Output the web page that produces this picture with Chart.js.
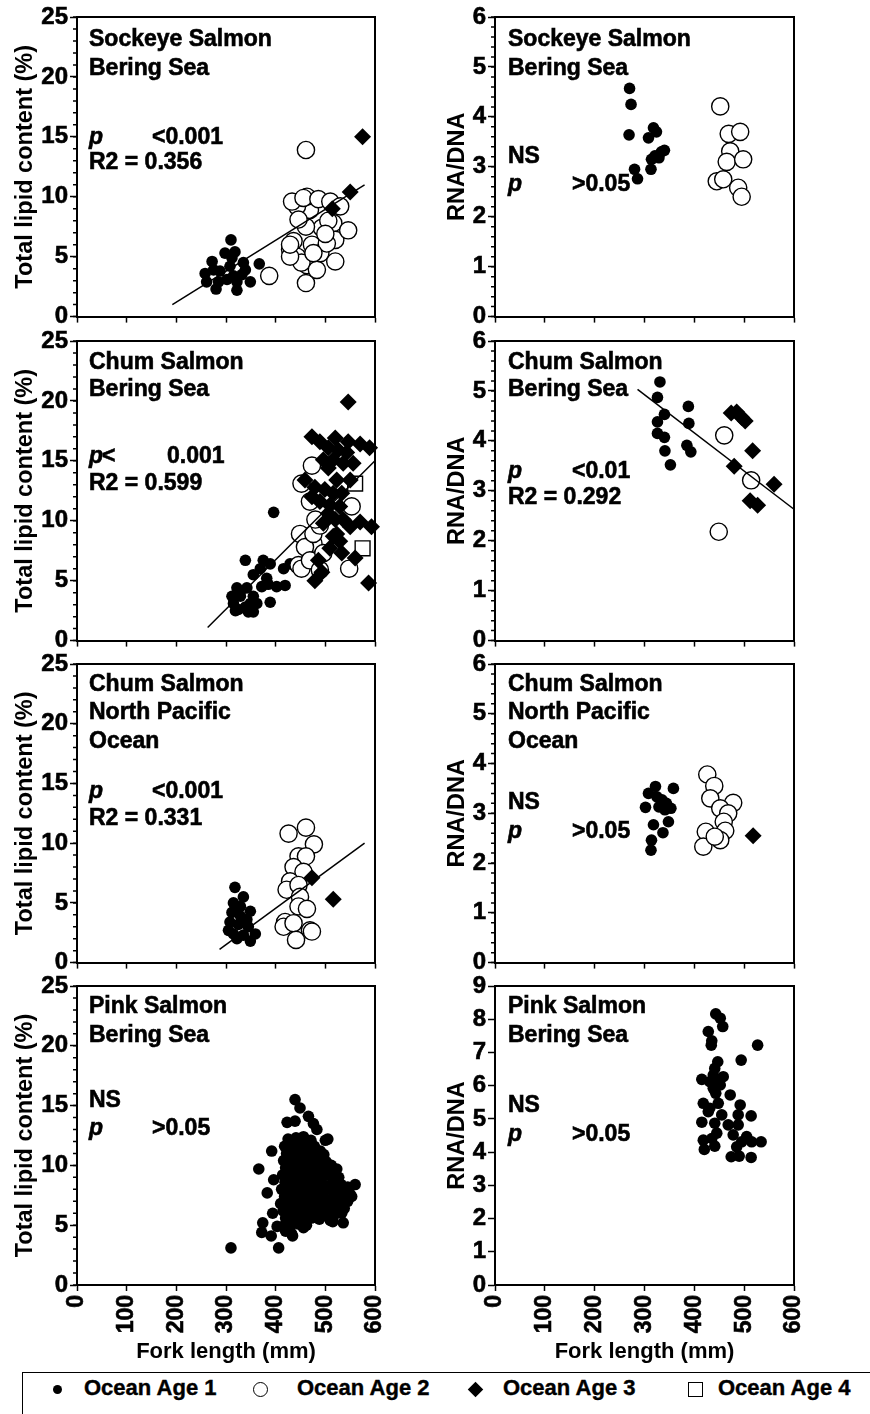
<!DOCTYPE html>
<html>
<head>
<meta charset="utf-8">
<script src="https://cdn.jsdelivr.net/npm/chart.js@4.4.1/dist/chart.umd.min.js"></script>
<style>
  body { margin: 0; background: #fff; width: 870px; height: 1414px; position: relative; overflow: hidden;
         font-family: "Liberation Sans", Arial, sans-serif; }
  canvas { position: absolute; }
  #legend { position: absolute; left: 22px; top: 1372px; width: 900px; height: 60px;
            border: 1.5px solid #000; box-sizing: border-box; }
  #legend .lbl { position: absolute; top: 2px; font-size: 22px; font-weight: bold; line-height: 26px; white-space: nowrap;
                 -webkit-text-stroke: 0.4px #000; }
  #legend .sym { position: absolute; box-sizing: border-box; }
</style>
</head>
<body>
<div id="legend"></div>
<script>
// ---- tick labels ----
const lengthTicks = [0, 100, 200, 300, 400, 500, 600];
const lipidTicks = [0, 5, 10, 15, 20, 25];
const rnaTicks = [0, 1, 2, 3, 4, 5, 6];
const pinkRnaTicks = [0, 1, 2, 3, 4, 5, 6, 7, 8, 9];
const legendLabels = ['Ocean Age 1', 'Ocean Age 2', 'Ocean Age 3', 'Ocean Age 4'];

// ---- Sockeye, Bering Sea: lipid (fork length mm, %) ----
const sockeyeLipidAge1 = [[310,6.4],[272,4.6],[258,3.6],[261,2.9],[280,2.3],[322,2.2],[349,2.9],[367,4.4],[318,5.4],[298,5.3],[335,4.5],[308,4.2],[288,3.8],[315,3.4],[332,3.5],[275,3.9],[302,3.1],[285,2.9],[322,2.9],[312,4.9],[339,3.9]];
const sockeyeLipidAge2 = [[461,13.9],[387,3.4],[461,2.8],[463,4.3],[473,6.0],[436,6.3],[429,5.6],[443,5.0],[452,4.5],[483,3.9],[490,5.3],[493,7.4],[461,7.5],[469,8.9],[443,9.2],[433,9.6],[463,10.0],[456,9.9],[486,9.8],[510,9.6],[530,9.2],[516,7.8],[520,6.4],[503,6.1],[520,4.6],[546,7.2],[429,5.0],[476,5.3],[506,8.0],[446,8.1],[500,6.9],[429,6.0]];
const sockeyeLipidAge3 = [[575,15.0],[550,10.4],[514,9.0]];
const sockeyeLipidFit = [[192,1.0],[579,11.0]];

// ---- Chum, Bering Sea: lipid ----
const chumLipidAge1 = [[396,10.7],[339,6.7],[375,6.7],[389,6.4],[416,6.0],[355,5.5],[382,5.2],[419,4.6],[402,4.5],[322,4.4],[342,4.4],[389,3.2],[329,3.7],[355,3.7],[315,3.1],[325,2.6],[355,2.4],[339,2.8],[312,3.7],[349,3.1],[372,4.5],[329,4.1],[319,2.5],[345,2.4],[362,3.1],[385,4.7],[369,6.0],[429,6.4]];
const chumLipidAge2 = [[473,14.6],[452,13.1],[469,11.6],[553,11.2],[449,8.9],[476,8.1],[459,7.8],[476,8.9],[489,9.6],[446,6.3],[452,6.0],[469,6.7],[548,6.0],[496,7.3],[489,5.9],[480,10.1]];
const chumLipidAge3 = [[546,19.9],[473,17.0],[489,16.6],[520,16.9],[546,16.6],[570,16.4],[589,16.1],[506,16.1],[526,15.9],[543,15.7],[496,15.1],[516,15.1],[536,14.8],[506,14.4],[556,14.8],[550,13.4],[523,13.4],[459,13.4],[479,12.8],[499,12.6],[516,12.3],[533,12.3],[473,12.0],[489,11.6],[509,11.3],[529,11.2],[506,10.6],[520,10.1],[496,9.8],[536,10.1],[570,9.9],[593,9.5],[516,8.7],[529,8.3],[509,7.7],[533,7.3],[560,6.9],[486,6.7],[479,5.0],[493,5.7],[587,4.8],[550,9.5],[523,8.9]];
const chumLipidAge4 = [[560,13.1],[575,7.7]];
const chumLipidFit = [[263,1.1],[600,15.0]];

// ---- Chum, North Pacific Ocean: lipid ----
const npoLipidAge1 = [[318,6.3],[335,5.5],[315,5.0],[349,4.3],[312,4.2],[329,3.9],[308,3.4],[325,3.2],[305,2.7],[345,3.0],[359,2.4],[322,2.0],[349,1.8],[335,2.3],[315,2.4],[342,3.6],[318,4.5],[329,4.7]];
const npoLipidAge2 = [[461,11.3],[426,10.8],[477,9.9],[446,8.9],[461,8.9],[436,8.0],[456,7.6],[429,6.8],[422,6.1],[446,6.5],[449,5.5],[446,4.7],[463,4.5],[419,3.4],[416,3.0],[436,3.3],[469,2.7],[473,2.6],[441,1.9]];
const npoLipidAge3 = [[473,7.1],[516,5.3]];
const npoLipidFit = [[287,1.1],[579,10.0]];

// ---- Pink, Bering Sea: lipid ----
const pinkLipidAge1 = [
  [310,3.1],[406,3.1],[366,9.7],[392,11.2],[396,8.8],[383,7.7],[374,5.2],[372,4.4],[391,4.1],[434,4.1],[456,4.8],[403,4.9],[394,6.0],
  [439,15.5],[449,14.8],[423,13.6],[439,13.7],[466,14.1],[476,13.5],[483,13.0],[500,12.1],[560,8.4],[536,5.2],[510,5.4],[516,5.7],[553,7.4],[523,9.7],[493,10.4],
  [425,12.2],[433,12.0],[441,12.3],[448,11.9],[456,12.4],[471,12.1],[505,12.2],
  [418,11.6],[428,11.4],[436,11.7],[445,11.5],[452,11.8],[462,11.3],[478,11.6],[490,11.2],
  [422,11.0],[430,10.8],[440,11.1],[447,10.9],[458,11.0],[466,10.7],[474,11.1],[483,10.8],[497,10.9],
  [416,10.4],[426,10.2],[434,10.5],[443,10.3],[451,10.6],[460,10.1],[469,10.4],[479,10.2],[488,10.5],[502,10.3],[512,10.0],
  [420,9.8],[429,9.6],[437,9.9],[446,9.7],[455,9.5],[464,9.9],[473,9.6],[482,9.8],[491,9.5],[500,9.7],[518,9.4],
  [414,9.2],[424,9.0],[433,9.3],[442,9.1],[450,8.9],[459,9.2],[468,9.0],[477,9.3],[486,8.9],[495,9.1],[508,9.2],[527,9.0],
  [419,8.6],[428,8.4],[436,8.7],[445,8.5],[454,8.3],[463,8.6],[472,8.4],[481,8.7],[490,8.5],[503,8.3],[515,8.6],[532,8.4],[545,8.2],
  [412,8.0],[423,7.8],[431,8.1],[440,7.9],[449,7.7],[458,8.0],[467,7.8],[476,8.1],[485,7.9],[496,7.7],[510,8.0],[522,7.8],[540,7.9],[550,7.6],
  [418,7.4],[426,7.2],[435,7.5],[444,7.3],[453,7.1],[462,7.4],[471,7.2],[480,7.5],[492,7.3],[505,7.1],[517,7.4],[530,7.2],[545,7.0],
  [410,6.8],[421,6.6],[430,6.9],[439,6.7],[448,6.5],[457,6.8],[466,6.6],[475,6.9],[487,6.7],[498,6.5],[512,6.8],[525,6.6],[538,6.4],
  [415,6.2],[425,6.0],[434,6.3],[443,6.1],[452,5.9],[461,6.2],[470,6.0],[483,6.3],[494,6.1],[507,5.9],[520,6.2],[533,6.0],
  [420,5.6],[430,5.4],[440,5.7],[450,5.5],[460,5.8],[472,5.6],[488,5.5],[500,5.8],[515,5.3],
  [418,5.0],[428,4.8],[445,5.1],[462,5.0],[420,4.5],[432,4.3]
];

// ---- RNA/DNA ----
const sockeyeRnaAge1 = [[270,4.57],[273,4.25],[269,3.64],[280,2.95],[286,2.76],[318,3.78],[308,3.58],[324,3.7],[314,3.15],[334,3.3],[329,3.18],[313,2.95],[340,3.33],[321,3.22]];
const sockeyeRnaAge2 = [[452,4.21],[469,3.66],[492,3.7],[472,3.31],[465,3.1],[498,3.15],[445,2.71],[458,2.75],[488,2.58],[495,2.4]];

const chumRnaAge1 = [[331,5.18],[326,4.87],[340,4.53],[326,4.38],[326,4.15],[340,4.07],[341,3.8],[352,3.52],[388,4.69],[389,4.35],[385,3.91],[393,3.78]];
const chumRnaAge2 = [[460,4.11],[514,3.21],[449,2.18]];
const chumRnaAge3 = [[474,4.56],[485,4.58],[495,4.47],[502,4.4],[517,3.8],[480,3.49],[512,2.8],[527,2.71],[560,3.13]];
const chumRnaFit = [[286,5.03],[600,2.63]];

const npoRnaAge1 = [[322,3.54],[358,3.5],[308,3.4],[335,3.27],[344,3.2],[302,3.12],[353,3.1],[329,3.13],[318,2.77],[348,2.83],[337,2.61],[314,2.46],[313,2.26],[325,3.33],[341,3.07]];
const npoRnaAge2 = [[426,3.78],[440,3.55],[432,3.3],[478,3.21],[452,3.1],[468,3.0],[459,2.83],[462,2.65],[423,2.63],[452,2.46],[418,2.33],[441,2.53]];
const npoRnaAge3 = [[518,2.55]];

const pinkRnaAge1 = [[443,8.16],[452,8.03],[457,7.78],[428,7.63],[435,7.35],[434,7.22],[527,7.22],[494,6.77],[447,6.72],[441,6.52],[438,6.32],[458,6.27],[415,6.19],[445,6.12],[452,6.02],[438,5.92],[431,6.12],[472,5.72],[443,5.77],[418,5.47],[448,5.47],[431,5.32],[492,5.42],[428,5.22],[455,5.12],[488,5.12],[514,5.09],[415,4.9],[441,4.87],[468,4.82],[488,4.82],[478,4.52],[445,4.57],[418,4.36],[435,4.41],[505,4.47],[534,4.31],[515,4.31],[495,4.31],[420,4.08],[441,4.18],[474,3.86],[490,3.88],[514,3.84],[485,4.16]];

// ---- layout ----
const rowTop = [17, 341, 664, 986];
const rowBottom = [317, 641, 963, 1285];
const FONT = '"Liberation Sans", Arial, sans-serif';
Chart.defaults.font.family = FONT;
Chart.defaults.font.weight = 'bold';
Chart.defaults.color = '#000';

const ageStyle = {
  age1: { pointStyle: 'circle', pointRadius: 5.8, backgroundColor: '#000', borderColor: '#000', borderWidth: 0 },
  age2: { pointStyle: 'circle', pointRadius: 8.6, backgroundColor: '#fff', borderColor: '#000', borderWidth: 1.4 },
  age3: { pointStyle: 'rectRot', pointRadius: 8.5, backgroundColor: '#000', borderColor: '#000', borderWidth: 0 },
  age4: { pointStyle: 'rect', pointRadius: 10.5, backgroundColor: '#fff', borderColor: '#000', borderWidth: 1.4 }
};

const panels = [
  { row: 0, col: 0, kind: 'lipid', age1: sockeyeLipidAge1, age2: sockeyeLipidAge2, age3: sockeyeLipidAge3, fit: sockeyeLipidFit,
    text: [['Sockeye Salmon', 12, 23], ['Bering Sea', 12, 52], ['p', 12, 121, true], ['<0.001', 75, 121], ['R2 = 0.356', 12, 146]] },
  { row: 1, col: 0, kind: 'lipid', age1: chumLipidAge1, age2: chumLipidAge2, age3: chumLipidAge3, age4: chumLipidAge4, fit: chumLipidFit,
    text: [['Chum Salmon', 12, 22], ['Bering Sea', 12, 49], ['p', 12, 116, true], ['<', 25, 116], ['0.001', 90, 116], ['R2 = 0.599', 12, 143]] },
  { row: 2, col: 0, kind: 'lipid', age1: npoLipidAge1, age2: npoLipidAge2, age3: npoLipidAge3, fit: npoLipidFit,
    text: [['Chum Salmon', 12, 21], ['North Pacific', 12, 49], ['Ocean', 12, 78], ['p', 12, 128, true], ['<0.001', 75, 128], ['R2 = 0.331', 12, 155]] },
  { row: 3, col: 0, kind: 'lipid', age1: pinkLipidAge1,
    text: [['Pink Salmon', 12, 21], ['Bering Sea', 12, 50], ['NS', 12, 115], ['p', 12, 143, true], ['>0.05', 75, 143]] },
  { row: 0, col: 1, kind: 'rna', age1: sockeyeRnaAge1, age2: sockeyeRnaAge2,
    text: [['Sockeye Salmon', 13, 23], ['Bering Sea', 13, 52], ['NS', 13, 140], ['p', 13, 168, true], ['>0.05', 77, 168]] },
  { row: 1, col: 1, kind: 'rna', age1: chumRnaAge1, age2: chumRnaAge2, age3: chumRnaAge3, fit: chumRnaFit,
    text: [['Chum Salmon', 13, 22], ['Bering Sea', 13, 49], ['p', 13, 131, true], ['<0.01', 77, 131], ['R2 = 0.292', 13, 157]] },
  { row: 2, col: 1, kind: 'rna', age1: npoRnaAge1, age2: npoRnaAge2, age3: npoRnaAge3,
    text: [['Chum Salmon', 13, 21], ['North Pacific', 13, 49], ['Ocean', 13, 78], ['NS', 13, 139], ['p', 13, 168, true], ['>0.05', 77, 168]] },
  { row: 3, col: 1, kind: 'pinkrna', age1: pinkRnaAge1,
    text: [['Pink Salmon', 13, 21], ['Bering Sea', 13, 50], ['NS', 13, 120], ['p', 13, 149, true], ['>0.05', 77, 149]] }
];

const toXY = arr => arr.map(([x, y]) => ({ x, y }));

// frame on top/right, minor y ticks, panel annotations
const panelDecor = {
  id: 'panelDecor',
  afterDraw(chart, args, opts) {
    const { ctx, chartArea: a } = chart;
    const ys = chart.scales.y;
    ctx.save();
    ctx.strokeStyle = '#000';
    ctx.lineWidth = 2;
    ctx.beginPath();
    ctx.moveTo(a.left - 1, a.top);
    ctx.lineTo(a.right, a.top);
    ctx.lineTo(a.right, a.bottom + 1);
    ctx.stroke();
    if (opts.minor) {
      ctx.lineWidth = 1.5;
      ctx.beginPath();
      const n = Math.round(ys.max / opts.minor);
      for (let i = 0; i <= n; i++) {
        const py = ys.getPixelForValue(i * opts.minor);
        ctx.moveTo(a.left - 4, py);
        ctx.lineTo(a.left, py);
      }
      ctx.stroke();
    }
    ctx.fillStyle = '#000';
    ctx.lineWidth = 0.6;
    ctx.textBaseline = 'middle';
    ctx.textAlign = 'left';
    opts.text.forEach(([t, dx, dy, it]) => {
      ctx.font = (it ? 'italic ' : '') + 'bold 23px ' + FONT;
      ctx.fillText(t, a.left + dx, a.top + dy);
      ctx.strokeText(t, a.left + dx, a.top + dy);
    });
    ctx.restore();
  }
};

function makePanel(p) {
  const cv = document.createElement('canvas');
  const bottomExtra = p.row === 3 ? 85 : 16;
  const h = rowBottom[p.row] - rowTop[p.row] + 17 + bottomExtra;
  cv.width = 435;
  cv.height = h;
  cv.style.left = (p.col === 0 ? 0 : 435) + 'px';
  cv.style.top = (rowTop[p.row] - 17) + 'px';
  document.body.appendChild(cv);

  const datasets = [];
  const add = (key) => {
    if (p[key]) datasets.push(Object.assign({ data: toXY(p[key]), clip: false, pointHoverRadius: 0 }, ageStyle[key]));
  };
  add('age3');
  if (p.fit) datasets.push({ data: toXY(p.fit), showLine: true, borderColor: '#000', borderWidth: 1.5, pointRadius: 0, clip: false });
  add('age4');
  add('age2');
  add('age1');

  const yTicks = p.kind === 'lipid' ? lipidTicks : (p.kind === 'rna' ? rnaTicks : pinkRnaTicks);
  const yTitle = p.kind === 'lipid' ? 'Total lipid content (%)' : 'RNA/DNA';
  const minor = p.kind === 'lipid' ? 1 : (p.kind === 'rna' ? 0.2 : 0);

  new Chart(cv, {
    type: 'scatter',
    data: { datasets },
    options: {
      responsive: false,
      animation: false,
      devicePixelRatio: 1,
      layout: { padding: { left: 0, top: 17, right: p.col === 0 ? 60 : 76, bottom: 0 } },
      plugins: {
        legend: { display: false },
        tooltip: { enabled: false },
        panelDecor: { minor, text: p.text }
      },
      scales: {
        x: {
          type: 'linear', min: 0, max: 600,
          afterBuildTicks: s => { s.ticks = lengthTicks.map(v => ({ value: v })); },
          afterFit: s => { s.height = bottomExtra; },
          grid: { drawOnChartArea: false, drawTicks: true, tickLength: 6, tickWidth: 1.5, tickColor: '#000' },
          border: { display: true, color: '#000', width: 2 },
          ticks: {
            autoSkip: false, minRotation: 90, maxRotation: 90, padding: 4, color: '#000',
            textStrokeColor: '#000', textStrokeWidth: 0.6,
            font: { size: 23, weight: 'bold' },
            callback: v => (p.row === 3 ? v : '')
          },
          title: { display: p.row === 3, text: 'Fork length (mm)', color: '#000',
                   font: { size: 22, weight: 'bold' }, padding: { top: 0, bottom: 5 } }
        },
        y: {
          type: 'linear', min: 0, max: yTicks[yTicks.length - 1],
          afterBuildTicks: s => { s.ticks = yTicks.map(v => ({ value: v })); },
          afterFit: s => { s.width = p.col === 0 ? 77 : 60; },
          grid: { drawOnChartArea: false, drawTicks: true, tickLength: 7, tickWidth: 1.5, tickColor: '#000' },
          border: { display: true, color: '#000', width: 2 },
          ticks: { autoSkip: false, padding: 2, color: '#000', textStrokeColor: '#000', textStrokeWidth: 0.6,
                   font: { size: 24, weight: 'bold' } },
          title: { display: true, text: yTitle, color: '#000', font: { size: 23.5, weight: 'bold' },
                   padding: { top: p.col === 0 ? 11 : 8, bottom: 0 } }
        }
      }
    },
    plugins: [panelDecor]
  });
}

panels.forEach(makePanel);

// shared legend
const legend = document.getElementById('legend');
const legendSyms = [
  { cx: 56, size: 9, css: 'background:#000;border-radius:50%;' },
  { cx: 259, size: 15, css: 'background:#fff;border:1.5px solid #000;border-radius:50%;' },
  { cx: 474, size: 11, css: 'background:#000;transform:rotate(45deg);' },
  { cx: 694, size: 15, css: 'background:#fff;border:1.5px solid #000;' }
];
const legendTextX = [83, 296, 502, 717];
legendLabels.forEach((lab, i) => {
  const s = legendSyms[i];
  const sym = document.createElement('span');
  sym.className = 'sym';
  sym.style.cssText = s.css + `width:${s.size}px;height:${s.size}px;left:${s.cx - 22 - s.size / 2}px;top:${16 - s.size / 2}px;`;
  legend.appendChild(sym);
  const t = document.createElement('span');
  t.className = 'lbl';
  t.textContent = lab;
  t.style.left = (legendTextX[i] - 22) + 'px';
  legend.appendChild(t);
});
</script>
</body>
</html>
